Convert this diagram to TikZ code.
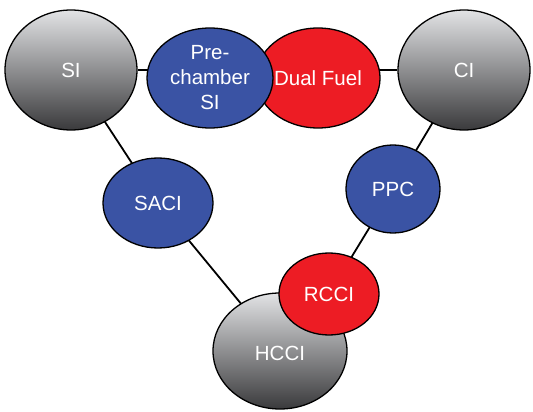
\documentclass[tikz,border=0pt]{standalone}
\usepackage{fontspec}
\setmainfont{Liberation Sans}
\usetikzlibrary{shapes.geometric}
\pgfdeclarelayer{links}
\pgfsetlayers{links,main}
\definecolor{modeblue}{HTML}{3A53A4}
\definecolor{modered}{HTML}{ED1C24}
\definecolor{greytop}{HTML}{E2E3E5}
\definecolor{greybot}{HTML}{3A3A3C}
\tikzset{
  mode/.style={ellipse, draw=black, line width=1.3pt, inner sep=0pt,
    text=white, font=\fontsize{20.5}{25}\selectfont, align=center},
  basemode/.style={mode, top color=greytop, bottom color=greybot},
  bluemode/.style={mode, fill=modeblue},
  redmode/.style={mode, fill=modered},
  link/.style={line width=1.8pt, black}
}
\begin{document}
\begin{tikzpicture}[x=1pt, y=-1pt]
\useasboundingbox (0,0) rectangle (533,412);
% combustion modes at the corners
\node[basemode, minimum width=132pt, minimum height=120pt] (si) at (71,70) {SI};
\node[basemode, minimum width=132pt, minimum height=120pt] (ci) at (464,70) {CI};
\node[basemode, minimum width=134pt, minimum height=116pt] (hcci) at (280,351) {};
% hybrid modes along the edges
\node[redmode, minimum width=116pt, minimum height=100pt] (df) at (318,78) {Dual Fuel};
\node[bluemode, minimum width=126pt, minimum height=100pt] (pc) at (210,78) {Pre-\\chamber\\SI};
\node[bluemode, minimum width=110pt, minimum height=90pt] (saci) at (158,203) {SACI};
\node[bluemode, minimum width=94pt, minimum height=88pt] (ppc) at (393,189) {PPC};
\node[redmode, minimum width=100pt, minimum height=82pt] (rcci) at (329,294) {RCCI};
\node[text=white, font=\fontsize{20.5}{25}\selectfont] (hccilabel) at (280,353) {HCCI};
% connectors, drawn behind the ellipses
\begin{pgfonlayer}{links}
  \draw[link] (si.east) -- (si.east -| pc.center);
  \draw[link] (ci.west) -- (ci.west -| df.center);
  \draw[link] (si.center) -- (saci.center);
  \draw[link] (saci.center) -- (hcci.center);
  \draw[link] (ci.center) -- (ppc.center);
  \draw[link] (ppc.center) -- (rcci.center);
\end{pgfonlayer}
\end{tikzpicture}
\end{document}
